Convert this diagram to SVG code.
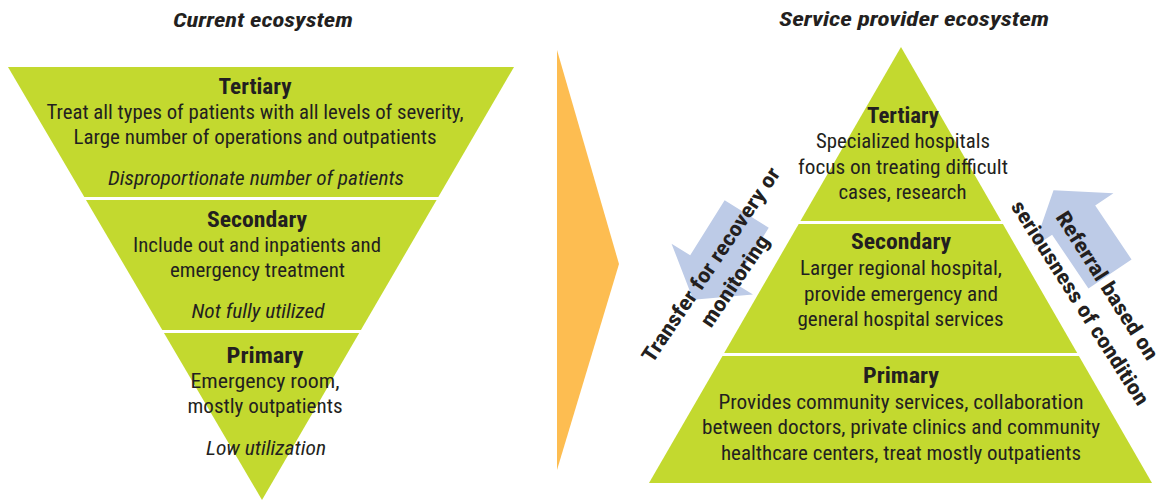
<svg xmlns="http://www.w3.org/2000/svg" width="1166" height="501" viewBox="0 0 1166 501">
  <style>
    text { font-family: "Liberation Sans Narrow", "Roboto Condensed", "Liberation Sans", Arial, sans-serif; fill: #231f20; text-anchor: middle; }
    .hd { font-size: 22px; font-weight: bold; }
    .bd { font-size: 21px; }
    .it { font-size: 21px; font-style: italic; }
    .ttl { font-size: 20px; font-weight: bold; font-style: italic; }
    .rot { font-size: 21px; font-weight: bold; }
    .tier { fill: #c3d92f; }
    .flow { fill: #bdcbe7; }
  </style>
  <defs>
    <!-- block arrow pointing along +x, tail at origin -->
    <polygon id="blockArrow" points="0,-26 65,-26 65,-48 101,0 65,48 65,26 0,26"/>
  </defs>

  <rect width="1166" height="501" fill="#ffffff"/>

  <!-- headings -->
  <text class="ttl" x="263" y="27" textLength="180" lengthAdjust="spacingAndGlyphs">Current ecosystem</text>
  <text class="ttl" x="914" y="26" textLength="270" lengthAdjust="spacingAndGlyphs">Service provider ecosystem</text>

  <!-- transition chevron -->
  <polygon id="chevron" points="557,50 619,264 557,470" fill="#fdbd51"/>

  <!-- connectors: patient flow arrows -->
  <g id="connectors">
    <use href="#blockArrow" class="flow" transform="translate(746.7,214) rotate(122)"/>
    <use href="#blockArrow" class="flow" transform="translate(1110,274) rotate(-124)"/>
  </g>

  <!-- current ecosystem (inverted pyramid) -->
  <g id="cur-tertiary">
    <polygon class="tier" points="8,67 514,67 438.3,197 84.3,197"/>
    <text class="hd" x="255" y="94" textLength="73" lengthAdjust="spacingAndGlyphs">Tertiary</text>
    <text class="bd" x="255" y="119" textLength="417" lengthAdjust="spacingAndGlyphs">Treat all types of patients with all levels of severity,</text>
    <text class="bd" x="255" y="144" textLength="363" lengthAdjust="spacingAndGlyphs">Large number of operations and outpatients</text>
    <text class="it" x="256" y="185" textLength="296" lengthAdjust="spacingAndGlyphs">Disproportionate number of patients</text>
  </g>
  <g id="cur-secondary">
    <polygon class="tier" points="86,200 436.6,200 360.9,330 162.3,330"/>
    <text class="hd" x="257" y="227" textLength="100" lengthAdjust="spacingAndGlyphs">Secondary</text>
    <text class="bd" x="257" y="252" textLength="248" lengthAdjust="spacingAndGlyphs">Include out and inpatients and</text>
    <text class="bd" x="257.5" y="277" textLength="175" lengthAdjust="spacingAndGlyphs">emergency treatment</text>
    <text class="it" x="258" y="318" textLength="133" lengthAdjust="spacingAndGlyphs">Not fully utilized</text>
  </g>
  <g id="cur-primary">
    <polygon class="tier" points="164,333 359.2,333 262,500"/>
    <text class="hd" x="265" y="363" textLength="77" lengthAdjust="spacingAndGlyphs">Primary</text>
    <text class="bd" x="265" y="388" textLength="149" lengthAdjust="spacingAndGlyphs">Emergency room,</text>
    <text class="bd" x="265" y="413" textLength="155" lengthAdjust="spacingAndGlyphs">mostly outpatients</text>
    <text class="it" x="266" y="455" textLength="120" lengthAdjust="spacingAndGlyphs">Low utilization</text>
  </g>

  <!-- service provider ecosystem (upright pyramid) -->
  <g id="sp-tertiary">
    <polygon class="tier" points="901,47 1001.2,221 800.4,221"/>
    <text class="hd" x="903" y="123" textLength="72" lengthAdjust="spacingAndGlyphs">Tertiary</text>
    <text class="bd" x="903" y="148" textLength="174" lengthAdjust="spacingAndGlyphs">Specialized hospitals</text>
    <text class="bd" x="903" y="174" textLength="210" lengthAdjust="spacingAndGlyphs">focus on treating difficult</text>
    <text class="bd" x="902.5" y="199" textLength="128" lengthAdjust="spacingAndGlyphs">cases, research</text>
  </g>
  <g id="sp-secondary">
    <polygon class="tier" points="798.7,224 1002.9,224 1077.2,353 724.2,353"/>
    <text class="hd" x="901" y="249" textLength="100" lengthAdjust="spacingAndGlyphs">Secondary</text>
    <text class="bd" x="901" y="275" textLength="202" lengthAdjust="spacingAndGlyphs">Larger regional hospital,</text>
    <text class="bd" x="901" y="301" textLength="194" lengthAdjust="spacingAndGlyphs">provide emergency and</text>
    <text class="bd" x="900.5" y="326" textLength="206" lengthAdjust="spacingAndGlyphs">general hospital services</text>
  </g>
  <g id="sp-primary">
    <polygon class="tier" points="722.5,356 1078.9,356 1152,483 649,483"/>
    <text class="hd" x="901" y="383" textLength="76" lengthAdjust="spacingAndGlyphs">Primary</text>
    <text class="bd" x="901" y="409" textLength="365" lengthAdjust="spacingAndGlyphs">Provides community services, collaboration</text>
    <text class="bd" x="901" y="434" textLength="398" lengthAdjust="spacingAndGlyphs">between doctors, private clinics and community</text>
    <text class="bd" x="901" y="460" textLength="360" lengthAdjust="spacingAndGlyphs">healthcare centers, treat mostly outpatients</text>
  </g>

  <!-- arrow labels -->
  <g id="label-transfer" transform="translate(722.5,272.5) rotate(-56)">
    <text class="rot" x="0" y="-7" textLength="230" lengthAdjust="spacingAndGlyphs">Transfer for recovery or</text>
    <text class="rot" x="0" y="22" textLength="106" lengthAdjust="spacingAndGlyphs">monitoring</text>
  </g>
  <g id="label-referral" transform="translate(1094,294) rotate(57.5)">
    <text class="rot" x="0" y="-8.5" textLength="172" lengthAdjust="spacingAndGlyphs">Referral based on</text>
    <text class="rot" x="0" y="23.5" textLength="238" lengthAdjust="spacingAndGlyphs">seriousness of condition</text>
  </g>
</svg>
